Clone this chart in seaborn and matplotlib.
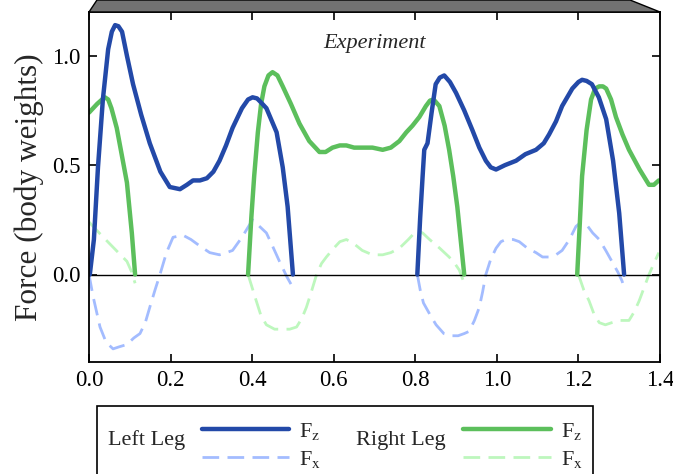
import matplotlib
matplotlib.use("Agg")
import matplotlib.pyplot as plt
import seaborn as sns
from matplotlib.patches import Polygon, Rectangle
from matplotlib.lines import Line2D

# ---- data (time in s, force in body weights) ----
left_fz_1_t = [0.002, 0.012, 0.022, 0.034, 0.047, 0.056, 0.064, 0.072, 0.081, 0.093, 0.108, 0.128,
               0.149, 0.175, 0.198, 0.223, 0.240, 0.255, 0.272, 0.289, 0.305, 0.320, 0.336, 0.352,
               0.375, 0.390, 0.401, 0.412, 0.420, 0.435, 0.460, 0.475, 0.487, 0.500]
left_fz_1_f = [0.0, 0.16, 0.49, 0.80, 1.03, 1.11, 1.14, 1.135, 1.11, 1.00, 0.87, 0.73,
               0.60, 0.47, 0.40, 0.39, 0.41, 0.43, 0.43, 0.44, 0.47, 0.52, 0.59, 0.67,
               0.76, 0.80, 0.81, 0.805, 0.79, 0.76, 0.65, 0.49, 0.31, 0.0]
left_fz_2_t = [0.805, 0.812, 0.818, 0.822, 0.830, 0.840, 0.850, 0.860, 0.871, 0.885, 0.900, 0.920,
               0.940, 0.957, 0.973, 0.985, 0.998, 1.020, 1.047, 1.070, 1.096, 1.115, 1.128, 1.145,
               1.160, 1.185, 1.200, 1.209, 1.220, 1.233, 1.250, 1.268, 1.285, 1.300, 1.312]
left_fz_2_f = [0.0, 0.26, 0.45, 0.57, 0.60, 0.74, 0.87, 0.90, 0.91, 0.88, 0.83, 0.75,
               0.66, 0.58, 0.52, 0.49, 0.48, 0.50, 0.52, 0.55, 0.57, 0.60, 0.64, 0.70,
               0.77, 0.85, 0.88, 0.89, 0.885, 0.87, 0.81, 0.71, 0.52, 0.28, 0.0]
right_fz_1_t = [0.0, 0.020, 0.032, 0.039, 0.047, 0.055, 0.068, 0.080, 0.093, 0.105, 0.113]
right_fz_1_f = [0.74, 0.78, 0.80, 0.81, 0.80, 0.76, 0.67, 0.55, 0.42, 0.19, 0.0]
right_fz_2_t = [0.390, 0.398, 0.405, 0.414, 0.422, 0.430, 0.440, 0.450, 0.462, 0.475, 0.495, 0.516,
                0.540, 0.565, 0.580, 0.597, 0.615, 0.631, 0.650, 0.670, 0.695, 0.720, 0.740,
                0.761, 0.778, 0.793, 0.810, 0.826, 0.836, 0.845, 0.859, 0.872, 0.883, 0.893,
                0.903, 0.920]
right_fz_2_f = [0.0, 0.26, 0.45, 0.65, 0.78, 0.86, 0.91, 0.925, 0.91, 0.86, 0.78, 0.69,
                0.61, 0.56, 0.56, 0.58, 0.59, 0.59, 0.58, 0.58, 0.58, 0.57, 0.58,
                0.61, 0.65, 0.68, 0.72, 0.77, 0.795, 0.80, 0.77, 0.68, 0.57, 0.45,
                0.31, 0.0]
right_fz_3_t = [1.197, 1.203, 1.209, 1.220, 1.231, 1.241, 1.251, 1.260, 1.268, 1.280, 1.292, 1.308,
                1.324, 1.350, 1.373, 1.385, 1.397]
right_fz_3_f = [0.0, 0.22, 0.45, 0.66, 0.80, 0.85, 0.86, 0.86, 0.85, 0.80, 0.72, 0.64,
                0.57, 0.48, 0.41, 0.41, 0.43]

left_fx_1_t = [0.0, 0.010, 0.027, 0.042, 0.059, 0.075, 0.093, 0.110, 0.125, 0.138, 0.149, 0.162,
               0.174, 0.190, 0.206, 0.230, 0.250, 0.272, 0.296, 0.320, 0.337, 0.352, 0.375,
               0.401, 0.418, 0.435, 0.450, 0.467, 0.485, 0.500]
left_fx_1_f = [0.0, -0.10, -0.24, -0.31, -0.34, -0.33, -0.32, -0.29, -0.27, -0.22, -0.15, -0.07,
               0.0, 0.10, 0.17, 0.18, 0.16, 0.13, 0.10, 0.09, 0.10, 0.11, 0.17,
               0.25, 0.22, 0.19, 0.13, 0.06, -0.01, -0.06]
left_fx_2_t = [0.805, 0.812, 0.820, 0.826, 0.838, 0.851, 0.870, 0.890, 0.905, 0.920, 0.932, 0.945,
               0.957, 0.965, 0.973, 0.985, 0.998, 1.010, 1.022, 1.040, 1.055, 1.075, 1.096,
               1.112, 1.128, 1.145, 1.160, 1.178, 1.194, 1.207, 1.219, 1.235, 1.251, 1.267,
               1.282, 1.297, 1.307, 1.312]
left_fx_2_f = [0.0, -0.07, -0.13, -0.15, -0.19, -0.23, -0.27, -0.28, -0.28, -0.27, -0.26, -0.21,
               -0.15, -0.08, 0.0, 0.07, 0.12, 0.15, 0.16, 0.16, 0.15, 0.12, 0.10,
               0.08, 0.08, 0.09, 0.11, 0.16, 0.22, 0.24, 0.23, 0.19, 0.16, 0.11,
               0.06, 0.01, -0.03, -0.06]
right_fx_1_t = [0.0, 0.025, 0.051, 0.072, 0.093, 0.105, 0.113]
right_fx_1_f = [0.24, 0.19, 0.14, 0.10, 0.06, 0.01, -0.04]
right_fx_2_t = [0.390, 0.400, 0.410, 0.422, 0.435, 0.455, 0.475, 0.492, 0.509, 0.522, 0.533, 0.545,
                0.558, 0.570, 0.582, 0.600, 0.615, 0.631, 0.650, 0.670, 0.695, 0.720, 0.740,
                0.761, 0.783, 0.803, 0.818, 0.835, 0.860, 0.883, 0.897, 0.908, 0.920]
right_fx_2_f = [0.0, -0.06, -0.12, -0.19, -0.23, -0.25, -0.25, -0.25, -0.24, -0.20, -0.15, -0.08,
                0.0, 0.05, 0.08, 0.12, 0.15, 0.16, 0.14, 0.11, 0.09, 0.09, 0.10,
                0.12, 0.16, 0.20, 0.19, 0.16, 0.12, 0.08, 0.05, 0.02, -0.04]
right_fx_3_t = [1.200, 1.213, 1.226, 1.238, 1.251, 1.266, 1.282, 1.300, 1.324, 1.337, 1.349, 1.361,
                1.373, 1.385, 1.397]
right_fx_3_f = [0.0, -0.07, -0.12, -0.18, -0.22, -0.23, -0.22, -0.21, -0.21, -0.17, -0.12, -0.06,
                0.0, 0.05, 0.10]

x_ticks = [0.0, 0.2, 0.4, 0.6, 0.8, 1.0, 1.2, 1.4]
y_ticks = [0.0, 0.5, 1.0]

dark_blue = "#2349a8"
light_blue = "#a3bcff"
green = "#5cbf5c"
light_green = "#bdf7bd"

sns.set_style("ticks")
plt.rcParams["font.family"] = ["Liberation Serif", "DejaVu Serif"]
plt.rcParams["mathtext.fontset"] = "stix"

fig = plt.figure(figsize=(6.73, 4.74), dpi=100)
W, H = 673, 474
ax = fig.add_axes([89 / W, 1 - 362 / H, (660 - 89) / W, (362 - 12) / H])

dash = (0, (6, 3))
for t, f in [(left_fx_1_t, left_fx_1_f), (left_fx_2_t, left_fx_2_f)]:
    sns.lineplot(x=t, y=f, ax=ax, color=light_blue, lw=2.0, linestyle=dash, sort=False)
for t, f in [(right_fx_1_t, right_fx_1_f), (right_fx_2_t, right_fx_2_f), (right_fx_3_t, right_fx_3_f)]:
    sns.lineplot(x=t, y=f, ax=ax, color=light_green, lw=2.0, linestyle=dash, sort=False)
ax.axhline(0, color="black", lw=1.0)
for t, f in [(right_fz_1_t, right_fz_1_f), (right_fz_2_t, right_fz_2_f), (right_fz_3_t, right_fz_3_f)]:
    sns.lineplot(x=t, y=f, ax=ax, color=green, lw=3.2, sort=False)
for t, f in [(left_fz_1_t, left_fz_1_f), (left_fz_2_t, left_fz_2_f)]:
    sns.lineplot(x=t, y=f, ax=ax, color=dark_blue, lw=3.2, sort=False)

ax.set_xlim(0, 1.4)
ax.set_ylim(-0.4, 1.2)
ax.set_xticks(x_ticks)
ax.set_xticklabels([f"{v:.1f}" for v in x_ticks])
ax.set_yticks(y_ticks)
ax.set_yticklabels([f"{v:.1f}" for v in y_ticks])
ax.tick_params(direction="in", length=6, width=1.2, labelsize=16.5, top=True, right=True,
               colors="black", pad=6)
for s in ax.spines.values():
    s.set_visible(True)
    s.set_color("black")
    s.set_linewidth(1.3)
ax.set_ylabel("Force (body weights)", fontsize=22.5, labelpad=6)
ax.text(0.5, 0.909, "Experiment", transform=ax.transAxes, ha="center", va="center",
        fontsize=16, style="italic")

# gray perspective bar above the axes
bar = Polygon([(89 / W, 1 - 12 / H), (97 / W, 1.0), (630 / W, 1.0), (660 / W, 1 - 12 / H)],
              closed=True, transform=fig.transFigure, facecolor="#727272", edgecolor="black",
              lw=1.0, clip_on=False)
fig.patches.append(bar)

# legend box
fig.patches.append(Rectangle((97 / W, -0.05), (593 - 97) / W, 1 - 406 / H + 0.05,
                             transform=fig.transFigure, facecolor="white", edgecolor="black",
                             lw=1.2))
fs = 16
fig.text(108 / W, 1 - 440 / H, "Left Leg", fontsize=fs, va="center", ha="left")
fig.lines.append(Line2D([202 / W, 289 / W], [1 - 429 / H] * 2, transform=fig.transFigure,
                        color=dark_blue, lw=3.2))
fig.lines.append(Line2D([202 / W, 289 / W], [1 - 457 / H] * 2, transform=fig.transFigure,
                        color=light_blue, lw=2.0, linestyle=dash))
fig.text(299 / W, 1 - 431 / H, r"F$_\mathrm{z}$", fontsize=fs, va="center", ha="left")
fig.text(299 / W, 1 - 459 / H, r"F$_\mathrm{x}$", fontsize=fs, va="center", ha="left")
fig.text(356 / W, 1 - 440 / H, "Right Leg", fontsize=fs, va="center", ha="left")
fig.lines.append(Line2D([463 / W, 551 / W], [1 - 429 / H] * 2, transform=fig.transFigure,
                        color=green, lw=3.2))
fig.lines.append(Line2D([463 / W, 551 / W], [1 - 457 / H] * 2, transform=fig.transFigure,
                        color=light_green, lw=2.0, linestyle=dash))
fig.text(561 / W, 1 - 431 / H, r"F$_\mathrm{z}$", fontsize=fs, va="center", ha="left")
fig.text(561 / W, 1 - 459 / H, r"F$_\mathrm{x}$", fontsize=fs, va="center", ha="left")

fig.savefig("out.png", dpi=100)
